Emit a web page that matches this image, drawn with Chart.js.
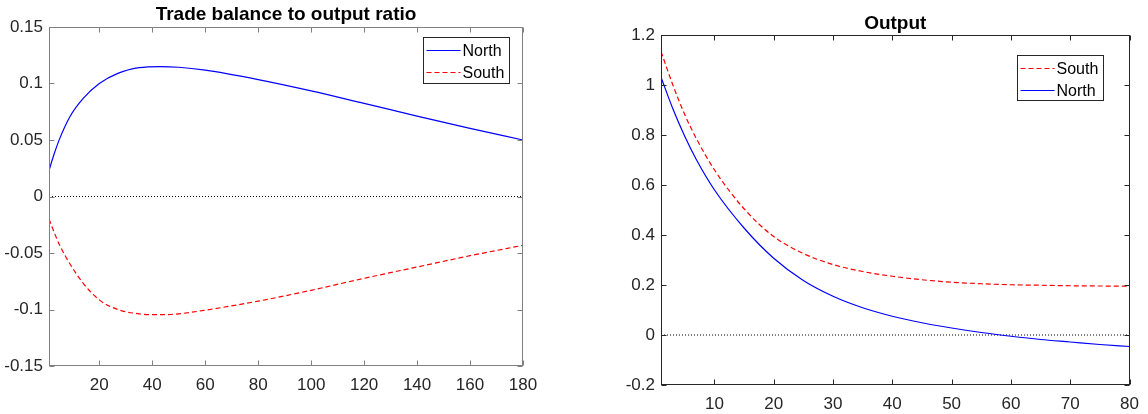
<!DOCTYPE html>
<html><head><meta charset="utf-8">
<script src="https://cdn.jsdelivr.net/npm/chart.js@4/dist/chart.umd.min.js"></script>
<style>
html,body{margin:0;padding:0;background:#fff;width:1148px;height:414px;overflow:hidden}
.c{position:absolute;top:0;width:574px;height:414px}
</style></head><body>
<div class="c" style="left:0"><canvas id="c1" width="574" height="414"></canvas></div>
<div class="c" style="left:574px"><canvas id="c2" width="574" height="414"></canvas></div>
<script>
// ---- Left panel: Trade balance to output ratio ----
const tbPeriods = [1, 3, 5, 9, 14, 20, 27, 35, 43, 50, 60, 80, 100, 120, 140, 160, 180];
const tbNorth = [0.023, 0.038, 0.051, 0.071, 0.087, 0.100, 0.109, 0.114, 0.115, 0.1144, 0.1118, 0.1035, 0.0935, 0.0824, 0.0712, 0.0603, 0.050];
const tbSouth = [-0.0198, -0.032, -0.043, -0.060, -0.077, -0.0915, -0.100, -0.1038, -0.1046, -0.1038, -0.1006, -0.0926, -0.083, -0.0724, -0.0624, -0.0524, -0.0432];
const tbXTicks = [20, 40, 60, 80, 100, 120, 140, 160, 180];
const tbYTicks = [-0.15, -0.1, -0.05, 0, 0.05, 0.1, 0.15];
const tbYLabels = ['-0.15', '-0.1', '-0.05', '0', '0.05', '0.1', '0.15'];

// ---- Right panel: Output ----
const outPeriods = [1, 3, 5, 7, 10, 15, 20, 25, 30, 35, 40, 45, 50, 55, 60, 65, 70, 75, 80];
const outSouth = [1.134, 1.0, 0.882, 0.784, 0.661, 0.505, 0.394, 0.326, 0.282, 0.254, 0.235, 0.221, 0.211, 0.205, 0.201, 0.199, 0.197, 0.196, 0.195];
const outNorth = [1.031, 0.905, 0.795, 0.700, 0.581, 0.428, 0.307, 0.218, 0.155, 0.109, 0.075, 0.049, 0.028, 0.010, -0.005, -0.018, -0.028, -0.038, -0.046];
const outXTicks = [10, 20, 30, 40, 50, 60, 70, 80];
const outYTicks = [-0.2, 0, 0.2, 0.4, 0.6, 0.8, 1, 1.2];
const outYLabels = ['-0.2', '0', '0.2', '0.4', '0.6', '0.8', '1', '1.2'];

const FONT = '"Liberation Sans", Arial, Helvetica, sans-serif';
const BLUE = '#0000ff', RED = '#ff0000';

const matlab = {
  id: 'matlab',
  afterDraw(chart, args, o) {
    const { ctx, chartArea: a } = chart;
    const x = chart.scales.x, y = chart.scales.y;
    ctx.save();
    // frame
    ctx.strokeStyle = o.axisColor; ctx.lineWidth = 1; ctx.setLineDash([]);
    const L = Math.round(a.left) + 0.5, R = Math.round(a.right) - 0.5, T = Math.round(a.top) + 0.5, B = Math.round(a.bottom) - 0.5;
    ctx.strokeRect(L, T, R - L, B - T);
    ctx.beginPath();
    x.ticks.forEach(t => {
      const px = Math.round(x.getPixelForValue(t.value)) + 0.5;
      ctx.moveTo(px, B); ctx.lineTo(px, B - 5);
      ctx.moveTo(px, T); ctx.lineTo(px, T + 5);
    });
    y.ticks.forEach(t => {
      const py = Math.round(y.getPixelForValue(t.value)) + 0.5;
      ctx.moveTo(L, py); ctx.lineTo(L + 5, py);
      ctx.moveTo(R, py); ctx.lineTo(R - 5, py);
    });
    ctx.stroke();
    // title
    ctx.fillStyle = '#000';
    ctx.font = 'bold 19px ' + FONT;
    ctx.textAlign = 'center'; ctx.textBaseline = 'alphabetic';
    ctx.fillText(o.title, (a.left + a.right) / 2, a.top - o.titleGap);
    // legend
    const lg = o.legend;
    const bx = Math.round(a.right - lg.dx - lg.w) + 0.5, by = Math.round(a.top + lg.dy) + 0.5;
    ctx.fillStyle = '#fff';
    ctx.fillRect(bx, by, lg.w, lg.h);
    ctx.strokeStyle = '#262626'; ctx.lineWidth = 1;
    ctx.strokeRect(bx, by, lg.w, lg.h);
    const items = chart.data.datasets.filter(d => d.label);
    items.forEach((d, i) => {
      const ry = by + 13 + 22 * i;
      ctx.beginPath();
      ctx.strokeStyle = d.borderColor; ctx.lineWidth = d.borderWidth;
      ctx.setLineDash(d.borderDash || []);
      ctx.moveTo(bx + 3, ry); ctx.lineTo(bx + 37, ry);
      ctx.stroke();
      ctx.setLineDash([]);
      ctx.fillStyle = '#000';
      ctx.font = '16px ' + FONT;
      ctx.textAlign = 'left'; ctx.textBaseline = 'middle';
      ctx.fillText(d.label, bx + 39, ry + 1);
    });
    ctx.restore();
  }
};

function pts(xs, ys) { return xs.map((v, i) => ({ x: v, y: ys[i] })); }

function makeChart(id, p) {
  return new Chart(document.getElementById(id), {
    type: 'line',
    data: { datasets: p.datasets },
    plugins: [matlab],
    options: {
      responsive: false, animation: false, devicePixelRatio: 1,
      layout: { padding: { left: 0, right: p.padRight, top: p.padTop, bottom: 0 } },
      elements: { point: { radius: 0 }, line: { cubicInterpolationMode: 'monotone' } },
      plugins: {
        legend: { display: false }, tooltip: { enabled: false }, title: { display: false },
        matlab: { title: p.title, titleGap: p.titleGap, axisColor: p.axisColor, legend: p.legend }
      },
      scales: {
        x: {
          type: 'linear', min: p.xMin, max: p.xMax,
          grid: { display: false, drawTicks: false }, border: { display: false },
          afterBuildTicks: s => { s.ticks = p.xTicks.map(v => ({ value: v })); },
          afterFit: s => { s.height = p.xHeight; },
          ticks: { autoSkip: false, maxRotation: 0, padding: 9, color: '#262626', font: { family: FONT, size: 17 },
                   callback: v => String(v) }
        },
        y: {
          type: 'linear', min: p.yMin, max: p.yMax,
          grid: { display: false, drawTicks: false }, border: { display: false },
          afterBuildTicks: s => { s.ticks = p.yTicks.map(v => ({ value: v })); },
          afterFit: s => { s.width = p.yWidth; },
          ticks: { autoSkip: false, padding: 6, color: '#262626', font: { family: FONT, size: 17 },
                   callback: (v, i) => p.yLabels[i] }
        }
      }
    }
  });
}

makeChart('c1', {
  title: 'Trade balance to output ratio', titleGap: 7, axisColor: '#808080',
  padRight: 51, padTop: 27, xHeight: 48, yWidth: 49,
  xMin: 1, xMax: 180, yMin: -0.15, yMax: 0.15,
  xTicks: tbXTicks, yTicks: tbYTicks, yLabels: tbYLabels,
  legend: { dx: 14, dy: 10, w: 86, h: 46 },
  datasets: [
    { label: 'North', data: pts(tbPeriods, tbNorth), borderColor: BLUE, borderWidth: 1.2 },
    { label: 'South', data: pts(tbPeriods, tbSouth), borderColor: RED, borderWidth: 1.2, borderDash: [5, 3] },
    { label: '', data: [{ x: 1, y: 0 }, { x: 180, y: 0 }], borderColor: '#000', borderWidth: 1, borderDash: [1, 2] }
  ]
});

makeChart('c2', {
  title: 'Output', titleGap: 6, axisColor: '#262626',
  padRight: 11, padTop: 35, xHeight: 29, yWidth: 87,
  xMin: 1, xMax: 80, yMin: -0.2, yMax: 1.2,
  xTicks: outXTicks, yTicks: outYTicks, yLabels: outYLabels,
  legend: { dx: 27, dy: 20, w: 86, h: 45 },
  datasets: [
    { label: 'South', data: pts(outPeriods, outSouth), borderColor: RED, borderWidth: 1.2, borderDash: [5, 3] },
    { label: 'North', data: pts(outPeriods, outNorth), borderColor: BLUE, borderWidth: 1.2 },
    { label: '', data: [{ x: 1, y: 0 }, { x: 80, y: 0 }], borderColor: '#000', borderWidth: 1, borderDash: [1, 2] }
  ]
});
</script>
</body></html>
